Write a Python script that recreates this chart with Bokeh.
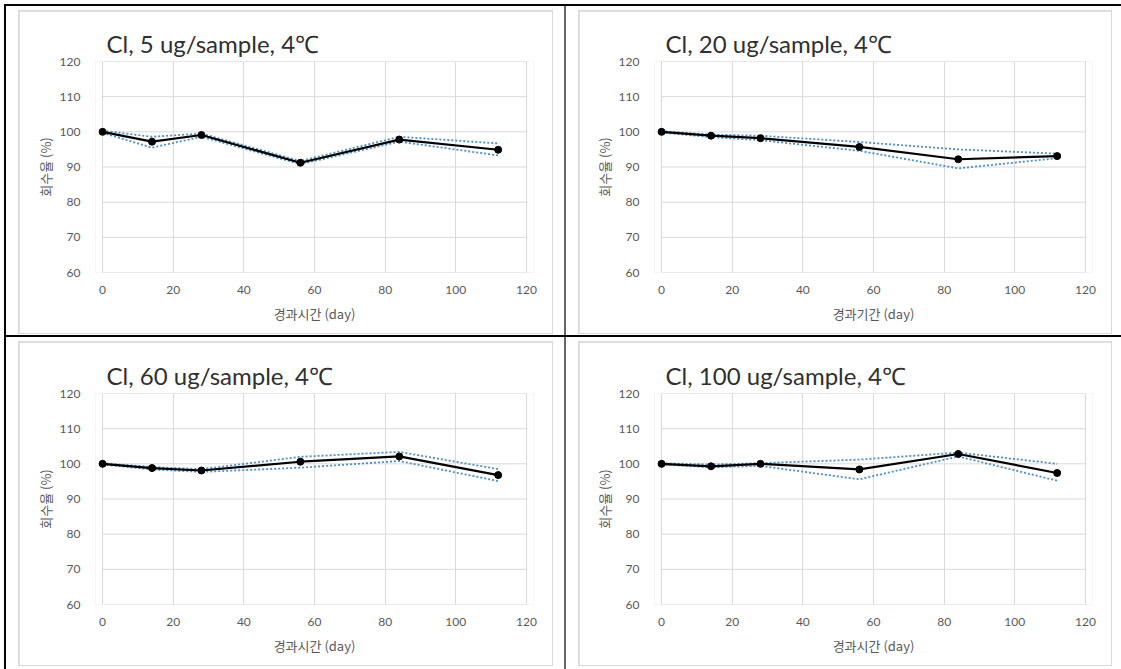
from bokeh.plotting import figure
from bokeh.models import Range1d, Column, Row
from bokeh.embed import file_html
from bokeh.resources import INLINE

# ---------------- data ----------------
days = [0, 14, 28, 56, 84, 112]
x_ticks = [0, 20, 40, 60, 80, 100, 120]
y_ticks = [60, 70, 80, 90, 100, 110, 120]

titles = ["Cl, 5 ug/sample, 4℃", "Cl, 20 ug/sample, 4℃",
          "Cl, 60 ug/sample, 4℃", "Cl, 100 ug/sample, 4℃"]
x_labels = ["경과시간 (day)", "경과기간 (day)", "경과시간 (day)", "경과시간 (day)"]
y_label = "회수율 (%)"

mean_5 = [100.0, 97.2, 99.1, 91.2, 97.8, 94.9]
upper_5 = [100.3, 98.6, 99.5, 91.7, 98.6, 96.7]
lower_5 = [99.7, 95.5, 98.6, 90.8, 97.2, 93.3]

mean_20 = [100.0, 98.9, 98.2, 95.7, 92.2, 93.1]
upper_20 = [100.2, 99.2, 98.9, 97.1, 95.0, 93.8]
lower_20 = [99.8, 98.5, 97.6, 94.6, 89.6, 92.5]

mean_60 = [100.0, 98.8, 98.1, 100.6, 102.1, 96.8]
upper_60 = [100.2, 99.1, 98.5, 102.0, 103.4, 98.5]
lower_60 = [99.8, 98.4, 97.7, 98.9, 100.8, 95.1]

mean_100 = [100.0, 99.3, 100.0, 98.4, 102.8, 97.4]
upper_100 = [100.2, 99.8, 100.2, 101.2, 103.2, 100.0]
lower_100 = [99.8, 99.0, 99.4, 95.6, 102.1, 95.2]

series = [(mean_5, upper_5, lower_5), (mean_20, upper_20, lower_20),
          (mean_60, upper_60, lower_60), (mean_100, upper_100, lower_100)]

# ---------------- layout / style ----------------
# figure (chart inner area) sizes
sizes = [(533, 322), (532, 322), (533, 323), (532, 323)]
# plot-area borders inside each figure: left, right, top, bottom
borders = [(83, 26, 50, 61), (82, 26, 50, 61), (83, 26, 51, 61), (82, 26, 51, 61)]
# white padding of each table cell around the gray chart border: top right bottom left
cell_pad = ["4px 11px 1px 12px", "4px 9px 1px 12px",
            "4px 11px 3px 12px", "4px 9px 3px 12px"]

PAD = 2.0
BLUE = "#4a8fc7"
GRID = "#d9d9d9"
TXT = "#595959"


def make_panel(i):
    w, h = sizes[i]
    bl, br, bt, bb = borders[i]
    fw = w - bl - br
    ppu = fw / (x_ticks[-1] - x_ticks[0])
    padpx = PAD * ppu
    p = figure(width=w, height=h,
               x_range=Range1d(x_ticks[0] - PAD, x_ticks[-1] + PAD),
               y_range=Range1d(y_ticks[0], y_ticks[-1]),
               output_backend="svg", toolbar_location=None,
               min_border_left=int(round(bl - padpx)),
               min_border_right=int(round(br - padpx)),
               min_border_top=bt, min_border_bottom=bb,
               background_fill_color="white", border_fill_color="white",
               outline_line_color=None)
    p.title.text = titles[i]
    p.title.text_font = "Lato"
    p.title.text_font_size = "24px"
    p.title.text_font_style = "normal"
    p.title.text_color = "#303030"
    p.title.align = "left"
    p.title.offset = padpx + 4
    p.title.standoff = 8

    for ax in (p.xaxis, p.yaxis):
        ax.axis_line_color = None
        ax.major_tick_line_color = None
        ax.minor_tick_line_color = None
        ax.major_label_text_font = "Lato"
        ax.major_label_text_font_size = "12px"
        ax.major_label_text_color = TXT
        ax.axis_label_text_font = "Noto Sans CJK KR"
        ax.axis_label_text_font_size = "13px"
        ax.axis_label_text_font_style = "normal"
        ax.axis_label_text_color = TXT
    p.xaxis.ticker = x_ticks
    p.yaxis.ticker = y_ticks
    p.xaxis.major_label_standoff = 7
    p.yaxis.major_label_standoff = 9
    p.xaxis.axis_label = x_labels[i]
    p.yaxis.axis_label = y_label
    p.xaxis.axis_label_standoff = 7
    p.yaxis.axis_label_standoff = 2

    p.xgrid.ticker = x_ticks
    p.xgrid.grid_line_color = GRID
    p.ygrid.grid_line_color = None
    n = len(y_ticks)
    p.segment(x0=[x_ticks[0]] * n, x1=[x_ticks[-1]] * n, y0=y_ticks, y1=y_ticks,
              line_color=GRID, line_width=1)

    mean, upper, lower = series[i]
    p.line(days, upper, line_color=BLUE, line_dash="2 2", line_width=1.8)
    p.line(days, lower, line_color=BLUE, line_dash="2 2", line_width=1.8)
    p.line(days, mean, line_color="black", line_width=2.2)
    p.scatter(days, mean, size=7, fill_color="black", line_color="black")

    chart = Column(children=[p], styles={"background-color": GRID, "padding": "1px"})
    cell = Column(children=[chart], styles={"background-color": "white",
                                            "padding": cell_pad[i]})
    return cell


cells = [make_panel(i) for i in range(4)]
row1 = Row(children=[cells[0], cells[1]], spacing=2, styles={"background-color": "#666666"})
row2 = Row(children=[cells[2], cells[3]], spacing=2, styles={"background-color": "#666666"})
table = Column(children=[row1, row2], spacing=2,
               margin=(4, 0, 0, 4),
               styles={"background-color": "#000000",
                       "padding-left": "2px", "padding-top": "2px"})

open("out.html", "w").write(file_html(table, INLINE))
